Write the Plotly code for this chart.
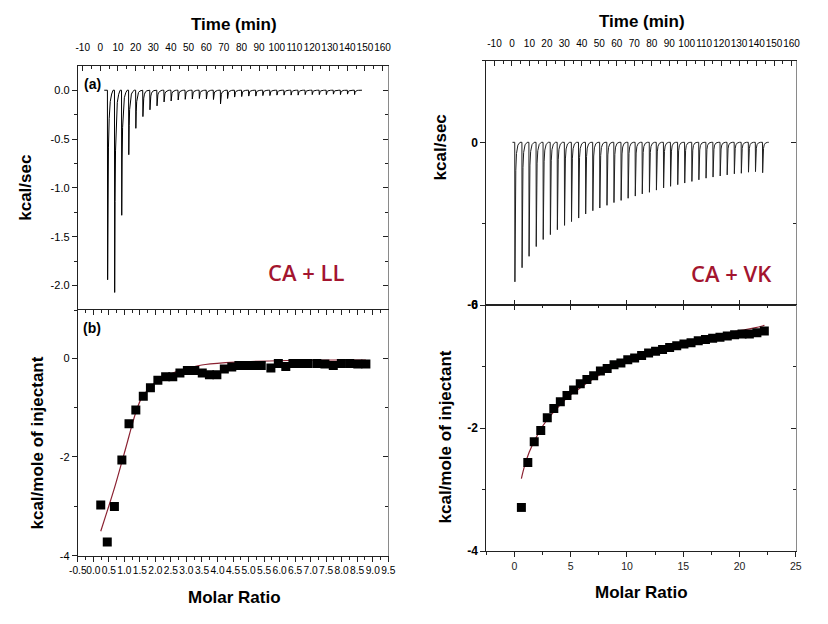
import plotly.graph_objects as go

# ---------------- data ----------------
# (a) CA + LL raw thermogram: injection times (min) and peak depths (kcal/sec)
lt_time = [4, 8, 12, 16, 20, 24, 28, 32, 36, 40, 44, 48, 52, 56, 60, 64, 68, 72,
           76, 80, 84, 88, 92, 96, 100, 104, 108, 112, 116, 120, 124, 128, 132, 136, 140, 144]
lt_depth = [1.94, 2.07, 1.28, 0.66, 0.39, 0.27, 0.20, 0.16, 0.12, 0.11, 0.10, 0.093,
            0.09, 0.085, 0.09, 0.095, 0.14, 0.085, 0.07, 0.065, 0.06, 0.06, 0.055, 0.055,
            0.05, 0.05, 0.05, 0.05, 0.045, 0.045, 0.045, 0.045, 0.04, 0.045, 0.04, 0.045]
lt_base = [2.2, 148.3]

# CA + VK raw thermogram
rt_time = [1.6, 5.7, 9.7, 13.8, 17.8, 21.9, 25.9, 30.0, 34.0, 38.1, 42.1, 46.2, 50.2,
           54.3, 58.3, 62.4, 66.4, 70.5, 74.5, 78.6, 82.6, 86.7, 90.7, 94.8, 98.8, 102.9,
           106.9, 111.0, 115.0, 119.1, 123.1, 127.2, 131.2, 135.3, 139.3, 143.4]
rt_depth = [5.14, 4.62, 4.20, 3.84, 3.58, 3.40, 3.22, 3.06, 2.92, 2.79, 2.64, 2.52,
            2.42, 2.32, 2.22, 2.14, 2.06, 1.98, 1.90, 1.84, 1.76, 1.68, 1.62, 1.56,
            1.50, 1.44, 1.38, 1.32, 1.28, 1.24, 1.20, 1.16, 1.14, 1.10, 1.08, 1.12]
rt_base = [0.3, 147.0]

# (b) CA + LL integrated heats
lb_ratio = [0.24, 0.45, 0.68, 0.92, 1.15, 1.37, 1.61, 1.84, 2.08, 2.33, 2.56, 2.79,
            3.03, 3.27, 3.51, 3.74, 3.98, 4.22, 4.46, 4.69, 4.93, 5.17, 5.41, 5.72,
            5.96, 6.20, 6.43, 6.67, 6.91, 7.20, 7.46, 7.73, 7.99, 8.26, 8.52, 8.78]
lb_heat = [-2.97, -3.72, -3.00, -2.06, -1.33, -1.05, -0.77, -0.60, -0.45, -0.38, -0.38, -0.30,
           -0.25, -0.25, -0.30, -0.34, -0.34, -0.22, -0.18, -0.15, -0.15, -0.15, -0.15, -0.20,
           -0.11, -0.17, -0.11, -0.11, -0.11, -0.11, -0.12, -0.15, -0.11, -0.11, -0.12, -0.12]
lb_fit_ratio = [0.24, 0.45, 0.68, 0.92, 1.08, 1.24, 1.40, 1.56, 1.72, 1.93, 2.14, 2.35,
                2.66, 3.08, 3.61, 4.66, 6.25, 7.84, 8.78]
lb_fit_heat = [-3.50, -3.09, -2.63, -2.10, -1.74, -1.37, -1.04, -0.80, -0.67, -0.53, -0.43, -0.36,
               -0.28, -0.20, -0.13, -0.08, -0.05, -0.04, -0.04]

# CA + VK integrated heats
rb_ratio = [0.62, 1.19, 1.76, 2.34, 2.92, 3.50, 4.08, 4.67, 5.26, 5.85, 6.44, 7.04,
            7.64, 8.24, 8.85, 9.46, 10.07, 10.68, 11.30, 11.92, 12.54, 13.16, 13.79, 14.42,
            15.06, 15.69, 16.33, 16.97, 17.61, 18.26, 18.91, 19.56, 20.22, 20.87, 21.54, 22.20]
rb_heat = [-3.29, -2.56, -2.22, -2.04, -1.83, -1.68, -1.57, -1.47, -1.38, -1.28, -1.21, -1.15,
           -1.07, -1.03, -0.97, -0.94, -0.89, -0.86, -0.82, -0.78, -0.75, -0.72, -0.69, -0.66,
           -0.63, -0.61, -0.58, -0.56, -0.54, -0.52, -0.50, -0.48, -0.47, -0.47, -0.45, -0.42]
rb_fit_ratio = [0.62, 0.88, 1.32, 1.91, 2.50, 3.24, 3.97, 4.85, 5.74, 6.91, 8.38, 9.85,
                11.32, 12.79, 14.26, 15.74, 17.21, 18.68, 20.15, 21.32, 22.21]
rb_fit_heat = [-2.82, -2.63, -2.39, -2.16, -1.97, -1.79, -1.64, -1.48, -1.36, -1.21, -1.05, -0.93,
               -0.82, -0.73, -0.65, -0.58, -0.52, -0.46, -0.41, -0.37, -0.33]

# tick labels
time_ticks = [-10, 0, 10, 20, 30, 40, 50, 60, 70, 80, 90, 100, 110, 120, 130, 140, 150, 160]
lt_yticks = [0.0, -0.5, -1.0, -1.5, -2.0]
lt_ytext = ['0.0', '-0.5', '-1.0', '-1.5', '-2.0']
lb_xticks = [-0.5, 0.0, 0.5, 1.0, 1.5, 2.0, 2.5, 3.0, 3.5, 4.0, 4.5, 5.0, 5.5, 6.0, 6.5,
             7.0, 7.5, 8.0, 8.5, 9.0, 9.5]
lb_xtext = ['-0.5', '0.0', '0.5', '1.0', '1.5', '2.0', '2.5', '3.0', '3.5', '4.0', '4.5',
            '5.0', '5.5', '6.0', '6.5', '7.0', '7.5', '8.0', '8.5', '9.0', '9.5']
b_yticks = [0, -2, -4]
b_ytext = ['0', '-2', '-4']
rt_yticks = [0, -6]
rt_ytext = ['0', '-6']
rb_xticks = [0, 5, 10, 15, 20, 25]
rb_xtext = ['0', '5', '10', '15', '20', '25']

# ---------------- peak shape (relative offsets in min, fraction of depth) ----------------
lt_dt = [0.0, 0.12, 0.35, 0.6, 1.0, 1.6, 2.4, 3.2]
lt_fr = [0.0, 1.0, 0.55, 0.30, 0.15, 0.06, 0.02, 0.0]
rt_dt = [0.0, 0.10, 0.30, 0.6, 1.0, 1.8, 3.0]
rt_fr = [0.0, 1.0, 0.50, 0.20, 0.08, 0.02, 0.0]


def thermogram(times, depths, base, dt, fr):
    xs, ys = [base[0]], [0.0]
    for t, d in zip(times, depths):
        for a, f in zip(dt, fr):
            xs.append(t + a)
            ys.append(-d * f)
    xs.append(base[1])
    ys.append(0.0)
    return xs, ys


# The page body keeps its default 8px margin, so the figure is sized to fill the
# 828x624 window exactly; positions below are given in window pixels.
PAGE_MARGIN = 8
W, H = 828 - 2 * PAGE_MARGIN, 624 - 2 * PAGE_MARGIN


def fx(px):
    return (px - PAGE_MARGIN) / W


def fy(py):
    return 1 - (py - PAGE_MARGIN) / H


LX = [fx(70), fx(386.7)]
RX = [fx(486.7), fx(802.5)]
LT_Y = [fy(310), fy(60.7)]
LB_Y = [fy(561.7), fy(310)]
RT_Y = [fy(305), fy(55)]
RB_Y = [fy(556.7), fy(305)]

LINE = '#222222'
LINE_R = '#8a8a8a'
FIT = '#8B2232'
TXT_RED = '#A3152F'
SANS = 'Liberation Sans, Arial, sans-serif'

fig = go.Figure()

x, y = thermogram(lt_time, lt_depth, lt_base, lt_dt, lt_fr)
fig.add_trace(go.Scatter(x=x, y=y, mode='lines', line=dict(color='black', width=1),
                         xaxis='x', yaxis='y'))
x, y = thermogram(rt_time, rt_depth, rt_base, rt_dt, rt_fr)
fig.add_trace(go.Scatter(x=x, y=y, mode='lines', line=dict(color='#202020', width=1),
                         xaxis='x3', yaxis='y3'))

fig.add_trace(go.Scatter(x=lb_fit_ratio, y=lb_fit_heat, mode='lines',
                         line=dict(color=FIT, width=1.2, shape='spline'), xaxis='x2', yaxis='y2'))
fig.add_trace(go.Scatter(x=lb_ratio, y=lb_heat, mode='markers',
                         marker=dict(symbol='square', size=9, color='black'), xaxis='x2', yaxis='y2'))
fig.add_trace(go.Scatter(x=rb_fit_ratio, y=rb_fit_heat, mode='lines',
                         line=dict(color=FIT, width=1.2, shape='spline'), xaxis='x4', yaxis='y4'))
fig.add_trace(go.Scatter(x=rb_ratio, y=rb_heat, mode='markers',
                         marker=dict(symbol='square', size=9, color='black'), xaxis='x4', yaxis='y4'))

# empty traces so that the overlay (mirror) axes are drawn
for xa, ya in [('x', 'y5'), ('x5', 'y2'), ('x2', 'y6'), ('x3', 'y7'), ('x6', 'y3'),
               ('x7', 'y4'), ('x4', 'y8')]:
    fig.add_trace(go.Scatter(x=[None], y=[None], mode='lines', xaxis=xa, yaxis=ya,
                             hoverinfo='skip'))

base_ax = dict(showgrid=False, zeroline=False, showline=True, linecolor=LINE, linewidth=1,
               tickcolor=LINE, ticklen=5, tickwidth=1, fixedrange=True, tickangle=0,
               tickfont=dict(family=SANS, size=11, color='black'))


def ax(**kw):
    d = dict(base_ax)
    d.update(kw)
    return d


time_font = dict(family=SANS, size=10, color='black')
bold12 = dict(family=SANS, size=12, color='black', weight='bold')

fig.update_layout(
    width=W, height=H, margin=dict(l=0, r=0, t=0, b=0),
    paper_bgcolor='white', plot_bgcolor='white', showlegend=False, hovermode=False,
    # ---- left top (a) ----
    xaxis=ax(domain=LX, anchor='y', side='top', range=[-12.8, 163.2], tickmode='array',
             tickvals=time_ticks, ticktext=[str(v) for v in time_ticks], ticks='inside',
             tickfont=time_font, ticklabelstandoff=10,
             minor=dict(ticks='inside', ticklen=3, tickmode='linear', tick0=0, dtick=5,
                        tickcolor=LINE)),
    yaxis=ax(domain=LT_Y, anchor='x', range=[-2.25, 0.243], tickmode='array',
             tickvals=lt_yticks, ticktext=lt_ytext, ticks='outside',
             minor=dict(ticks='outside', ticklen=3, tickmode='linear', tick0=0, dtick=0.25,
                        tickcolor=LINE)),
    yaxis5=ax(overlaying='y', side='right', anchor='x', range=[-2.25, 0.243], tickmode='array',
              tickvals=lt_yticks, showticklabels=False, ticks='inside', linecolor=LINE_R,
              minor=dict(ticks='inside', ticklen=3, tickmode='linear', tick0=0, dtick=0.25,
                         tickcolor=LINE)),
    # ---- left bottom (b) ----
    xaxis2=ax(domain=LX, anchor='y2', side='bottom', range=[-0.5, 9.5], tickmode='array',
              tickvals=lb_xticks, ticktext=lb_xtext, ticks='outside',
              tickfont=dict(family=SANS, size=10.2, color='black'),
              minor=dict(ticks='outside', ticklen=3, tickmode='linear', tick0=0.25, dtick=0.5,
                         tickcolor=LINE)),
    xaxis5=ax(overlaying='x2', side='top', anchor='y2', range=[-0.5, 9.5], tickmode='array',
              tickvals=lb_xticks, showticklabels=False, ticks='inside',
              minor=dict(ticks='inside', ticklen=3, tickmode='linear', tick0=0.25, dtick=0.5,
                         tickcolor=LINE)),
    yaxis2=ax(domain=LB_Y, anchor='x2', range=[-4, 0.97], tickmode='array',
              tickvals=b_yticks, ticktext=b_ytext, ticks='outside',
              minor=dict(ticks='outside', ticklen=3, tickmode='linear', tick0=-1, dtick=2,
                         tickcolor=LINE)),
    yaxis6=ax(overlaying='y2', side='right', anchor='x2', range=[-4, 0.97], tickmode='array',
              tickvals=b_yticks, showticklabels=False, ticks='inside', linecolor=LINE_R,
              minor=dict(ticks='inside', ticklen=3, tickmode='linear', tick0=-1, dtick=2,
                         tickcolor=LINE)),
    # ---- right top ----
    xaxis3=ax(domain=RX, anchor='y3', side='top', range=[-14.7, 162.5], tickmode='array',
              tickvals=time_ticks, ticktext=[str(v) for v in time_ticks], ticks='inside',
              tickfont=time_font, ticklabelstandoff=9,
              minor=dict(ticks='inside', ticklen=3, tickmode='linear', tick0=0, dtick=5,
                         tickcolor=LINE)),
    yaxis3=ax(domain=RT_Y, anchor='x3', range=[-6, 3], tickmode='array',
              tickvals=rt_yticks, ticktext=rt_ytext, ticks='outside', tickfont=bold12,
              minor=dict(ticks='outside', ticklen=3, tickmode='linear', tick0=-3, dtick=6,
                         tickcolor=LINE)),
    yaxis7=ax(overlaying='y3', side='right', anchor='x3', range=[-6, 3], tickmode='array',
              tickvals=rt_yticks, showticklabels=False, ticks='inside', linecolor=LINE_R,
              minor=dict(ticks='inside', ticklen=3, tickmode='linear', tick0=-3, dtick=6,
                         tickcolor=LINE)),
    xaxis6=ax(overlaying='x3', side='bottom', anchor='y3', range=[-2.5, 25], tickmode='array',
              tickvals=rb_xticks, showticklabels=False, ticks='inside'),
    # ---- right bottom ----
    xaxis4=ax(domain=RX, anchor='y4', side='bottom', range=[-2.5, 25], tickmode='array',
              tickvals=rb_xticks, ticktext=rb_xtext, ticks='outside',
              tickfont=dict(family=SANS, size=10.5, color='#222222'),
              minor=dict(ticks='outside', ticklen=3, tickmode='linear', tick0=2.5, dtick=5,
                         tickcolor=LINE)),
    xaxis7=ax(overlaying='x4', side='top', anchor='y4', range=[-2.5, 25], tickmode='array',
              tickvals=rb_xticks, showticklabels=False, ticks='inside',
              minor=dict(ticks='inside', ticklen=3, tickmode='linear', tick0=2.5, dtick=5,
                         tickcolor=LINE)),
    yaxis4=ax(domain=RB_Y, anchor='x4', range=[-4, 0], tickmode='array',
              tickvals=b_yticks, ticktext=b_ytext, ticks='outside', tickfont=bold12,
              minor=dict(ticks='outside', ticklen=3, tickmode='linear', tick0=-3, dtick=2,
                         tickcolor=LINE)),
    yaxis8=ax(overlaying='y4', side='right', anchor='x4', range=[-4, 0], tickmode='array',
              tickvals=b_yticks, showticklabels=False, ticks='inside', linecolor=LINE_R,
              minor=dict(ticks='inside', ticklen=3, tickmode='linear', tick0=-3, dtick=2,
                         tickcolor=LINE)),
)

title_font = dict(family=SANS, size=17, color='black', weight='bold')
notes = [
    ('Time (min)', 229, 17.5, 0, title_font),
    ('Time (min)', 646, 15, 0, title_font),
    ('kcal/sec', 17, 185, -90, title_font),
    ('kcal/sec', 440, 143, -90, title_font),
    ('kcal/mole of injectant', 29, 446, -90, title_font),
    ('kcal/mole of injectant', 445, 440, -90, title_font),
    ('Molar Ratio', 230, 604, 0, title_font),
    ('Molar Ratio', 645, 599, 0, title_font),
    ('(a)', 85, 79, 0, dict(family=SANS, size=14, color='black', weight='bold')),
    ('(b)', 85, 328, 0, dict(family=SANS, size=14, color='black', weight='bold')),
    ('CA + LL', 303, 271, 0, dict(family='Open Sans', size=22, color=TXT_RED, weight=600)),
    ('CA + VK', 737, 272, 0, dict(family='Open Sans', size=22, color=TXT_RED, weight=600)),
]
for text, px, py, ang, font in notes:
    fig.add_annotation(text=text, x=fx(px), y=fy(py), xref='paper', yref='paper',
                       xanchor='center', yanchor='middle', showarrow=False,
                       textangle=ang, font=font)

fig.write_html('out.html', config={'displayModeBar': False})
